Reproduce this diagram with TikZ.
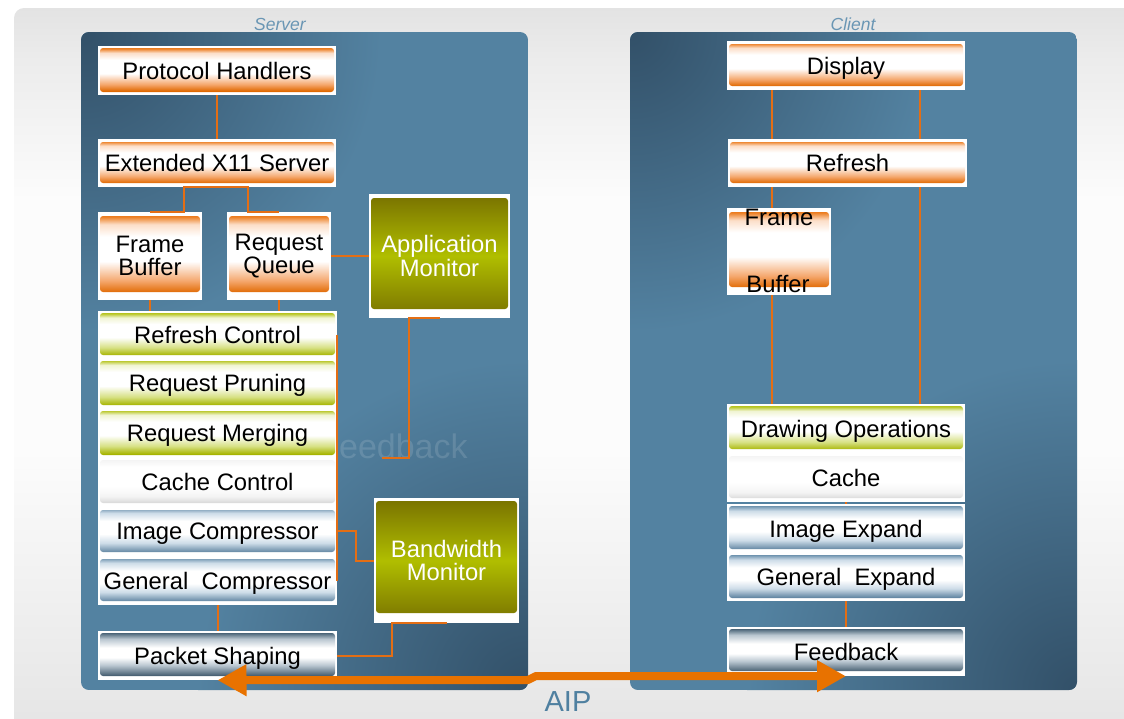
\documentclass[tikz,border=0pt]{standalone}
\usepackage{fontspec}
\setmainfont{Liberation Sans}
\usetikzlibrary{arrows.meta,calc}

\definecolor{bgG}{RGB}{227,227,227}
\definecolor{bgG2}{RGB}{236,236,236}
\definecolor{bgW}{RGB}{252,252,252}
\definecolor{bgB}{RGB}{230,230,230}
\definecolor{pD}{RGB}{50,80,104}
\definecolor{pL}{RGB}{83,130,161}
\definecolor{ttl}{RGB}{106,150,180}
\definecolor{aipT}{RGB}{79,128,160}
\definecolor{lnC}{RGB}{228,110,20}
\definecolor{aipC}{RGB}{232,114,0}
\definecolor{orD}{RGB}{224,104,0}
\definecolor{orM}{RGB}{236,124,30}
\definecolor{orS}{RGB}{245,168,110}
\definecolor{orL}{RGB}{252,222,200}
\definecolor{grD}{RGB}{166,180,0}
\definecolor{grM}{RGB}{182,196,30}
\definecolor{grS}{RGB}{214,224,130}
\definecolor{grL}{RGB}{240,244,210}
\definecolor{gyD}{RGB}{212,212,212}
\definecolor{gyM}{RGB}{228,228,228}
\definecolor{gyL}{RGB}{244,244,244}
\definecolor{blD}{RGB}{88,126,156}
\definecolor{blM}{RGB}{110,146,174}
\definecolor{blL}{RGB}{205,220,232}
\definecolor{dkD}{RGB}{52,78,98}
\definecolor{dkM}{RGB}{74,100,120}
\definecolor{dkL}{RGB}{185,198,208}
\definecolor{olD}{RGB}{122,116,0}
\definecolor{olM}{RGB}{176,190,0}

\pgfdeclareverticalshading{bgshade}{100bp}{color(0bp)=(bgB); color(26.5bp)=(bgB); color(44.8bp)=(bgW); color(61.9bp)=(bgW); color(71.4bp)=(bgG2); color(75bp)=(bgG); color(100bp)=(bgG)}
\pgfdeclareverticalshading{orangebox}{100bp}{color(0bp)=(orD); color(29bp)=(orD); color(36bp)=(orS); color(47bp)=(white); color(61bp)=(white); color(68bp)=(orL); color(72.5bp)=(orM); color(75bp)=(orM); color(100bp)=(orM)}
\pgfdeclareverticalshading{greenbox}{100bp}{color(0bp)=(grD); color(28bp)=(grD); color(36bp)=(grS); color(47bp)=(white); color(61bp)=(white); color(68bp)=(grL); color(72.5bp)=(grM); color(75bp)=(grM); color(100bp)=(grM)}
\pgfdeclareverticalshading{graybox}{100bp}{color(0bp)=(gyD); color(27bp)=(gyD); color(35bp)=(gyL); color(45bp)=(white); color(65bp)=(white); color(72bp)=(gyL); color(75bp)=(gyM); color(100bp)=(gyM)}
\pgfdeclareverticalshading{bluebox}{100bp}{color(0bp)=(blD); color(28bp)=(blD); color(38bp)=(blL); color(47bp)=(white); color(60bp)=(white); color(68bp)=(blL); color(73bp)=(blM); color(75bp)=(blM); color(100bp)=(blM)}
\pgfdeclareverticalshading{darkbox}{100bp}{color(0bp)=(dkD); color(28bp)=(dkD); color(40bp)=(dkL); color(48bp)=(white); color(58bp)=(white); color(67bp)=(dkL); color(73bp)=(dkM); color(75bp)=(dkM); color(100bp)=(dkM)}
\pgfdeclareverticalshading{olivebox}{100bp}{color(0bp)=(olD); color(26bp)=(olD); color(50bp)=(olM); color(74bp)=(olD); color(100bp)=(olD)}

\newcommand{\bfnt}{\fontsize{23.8}{23.5}\selectfont}

\tikzset{
  blk/.style={fill=white, inner sep=0pt, font=\bfnt, align=center, text=black},
  one/.style={text height=19pt, text depth=2pt},
  sh/.style n args={3}{path picture={\shade[shading=#1, rounded corners=3pt]
      ([xshift=2pt, yshift=#3]path picture bounding box.south west) rectangle
      ([xshift=-2pt, yshift=-#2]path picture bounding box.north east);}},
  mon/.style={blk, text=white},
  glow/.style={inner color=pD, outer color=pL},
  ln/.style={draw=lnC, line width=2pt},
  aip/.style={draw=aipC, line width=8pt, line join=round,
      arrows={Triangle[length=29pt,width=30pt]-Triangle[length=29pt,width=30pt]}},
  ttlf/.style={text=ttl, font=\fontsize{17.5}{18}\selectfont\itshape, inner sep=0pt}
}

\begin{document}
\begin{tikzpicture}[x=1pt, y=-1pt]
\useasboundingbox (0,0) rectangle (1124,718);
% background
\shade[shading=bgshade, rounded corners=10pt] (14,8) rectangle (1150,740);
% panels
\begin{scope}
  \clip[rounded corners=8pt] (81,32) rectangle (528,690);
  \fill[pL] (81,32) rectangle (528,690);
  \shade[glow] (81,32) circle[radius=300];
  \shade[glow] (528,690) circle[radius=330];
\end{scope}
\begin{scope}
  \clip[rounded corners=8pt] (630,32) rectangle (1077,690);
  \fill[pL] (630,32) rectangle (1077,690);
  \shade[glow] (630,32) circle[radius=300];
  \shade[glow] (1077,690) circle[radius=330];
\end{scope}
\node[ttlf] (tS) at (280,24) {Server};
\node[ttlf] (tC) at (853,24) {Client};
% watermark
\node[text=white, text opacity=0.13, font=\fontsize{34}{34}\selectfont, inner sep=0pt] (wm) at (393,446) {Feedback};

% server nodes
\node[blk, one, sh={orangebox}{2pt}{3pt}, minimum width=238pt, minimum height=49pt] (ph) at (217,70.5) {Protocol Handlers};
\node[blk, one, sh={orangebox}{3pt}{4pt}, minimum width=238pt, minimum height=48pt] (x11) at (217,163) {Extended X11 Server};
\node[blk, sh={orangebox}{4pt}{8pt}, minimum width=104pt, minimum height=88pt] (fb) at (150,256) {Frame\\Buffer};
\node[blk, sh={orangebox}{4pt}{8pt}, minimum width=104pt, minimum height=88pt] (rq) at (279,256) {Request\\Queue};
\node[mon, sh={olivebox}{4pt}{9pt}, minimum width=141pt, minimum height=124pt] (am) at (439.5,256) {Application\\Monitor};
\node[blk, one, sh={greenbox}{2pt}{3pt}, minimum width=239pt, minimum height=47pt] (rc) at (217.5,334.5) {Refresh Control};
\node[blk, one, sh={greenbox}{3pt}{3pt}, minimum width=239pt, minimum height=50pt] (rp) at (217.5,383) {Request Pruning};
\node[blk, one, sh={greenbox}{3pt}{2pt}, minimum width=239pt, minimum height=49pt] (rm) at (217.5,432.5) {Request Merging};
\node[blk, one, sh={graybox}{3pt}{3pt}, minimum width=239pt, minimum height=49pt] (cc) at (217.5,481.5) {Cache Control};
\node[blk, one, sh={bluebox}{4pt}{4pt}, minimum width=239pt, minimum height=50pt] (ic) at (217.5,531) {Image Compressor};
\node[blk, one, sh={bluebox}{3pt}{4pt}, minimum width=239pt, minimum height=49pt] (gc) at (217.5,580.5) {General\ \ Compressor};
\node[mon, sh={olivebox}{3pt}{10pt}, minimum width=145pt, minimum height=125pt] (bm) at (446.5,560.5) {Bandwidth\\Monitor};
\node[blk, one, sh={darkbox}{2pt}{4pt}, minimum width=239pt, minimum height=49pt] (ps) at (217.5,655.5) {Packet Shaping};

% client nodes
\node[blk, one, sh={orangebox}{3pt}{4pt}, minimum width=238pt, minimum height=49pt] (disp) at (846,65.5) {Display};
\node[blk, one, sh={orangebox}{3pt}{4pt}, minimum width=239pt, minimum height=48pt] (ref) at (847.5,163) {Refresh};
\node[blk, sh={orangebox}{4pt}{8pt}, minimum width=104pt, minimum height=87pt] (fbc) at (779,251.5) {};
\node[font=\bfnt, anchor=base, inner sep=0pt] (fbcT) at (779,225) {Frame};
\node[font=\bfnt, anchor=base, inner sep=0pt] (fbcB) at (778,292) {Buffer};
\node[blk, one, sh={greenbox}{2pt}{4pt}, minimum width=238pt, minimum height=49pt] (dop) at (846,428.5) {Drawing Operations};
\node[blk, one, sh={graybox}{3pt}{4pt}, minimum width=238pt, minimum height=49pt] (cache) at (846,477.5) {Cache};
\node[blk, one, sh={bluebox}{2pt}{4pt}, minimum width=238pt, minimum height=49pt] (ie) at (846,528.5) {Image Expand};
\node[blk, one, sh={bluebox}{2pt}{3pt}, minimum width=238pt, minimum height=48pt] (ge) at (846,577) {General\ \ Expand};
\node[blk, one, sh={darkbox}{2pt}{5pt}, minimum width=238pt, minimum height=49pt] (fbk) at (846,651.5) {Feedback};

% server connectors
\draw[ln] (ph.south) -- (x11.north);
\draw[ln] (fb.north) -- ++(34,0) |- ([xshift=31pt]x11.south) |- (rq.north);
\draw[ln] (fb.south) -- (fb.south |- rc.north);
\draw[ln] (rq.south) -- (rq.south |- rc.north);
\draw[ln] (rq.east) -- (am.west);
\draw[ln] (am.south) -- ++(-31,0) -- ++(0,140) -- ++(-27,0) coordinate (amEnd);
\draw[ln] (rc.east) -- (gc.east);
\draw[ln] (ic.east) -- ++(19,0) |- (bm.west);
\draw[ln] (gc.south) -- (ps.north);
\draw[ln] (ps.east) -- ++(55,0) |- (bm.south);

% client connectors
\coordinate (cL) at (772,0);
\coordinate (cR) at (920,0);
\draw[ln] (disp.south -| cL) -- (ref.north -| cL);
\draw[ln] (ref.south -| cL) -- (fbc.north -| cL);
\draw[ln] (fbc.south -| cL) -- (dop.north -| cL);
\draw[ln] (disp.south -| cR) -- (ref.north -| cR);
\draw[ln] (ref.south -| cR) -- (dop.north -| cR);
\draw[ln] (cache.south) -- (ie.north);
\draw[ln] (ge.south) -- (fbk.north);

% AIP link
\draw[aip] (ps.south) -- (528,680) -- (536,676) -- (fbk.south);
\node[text=aipT, font=\fontsize{29}{29}\selectfont, inner sep=0pt] (aipL) at (568,702) {AIP};
\end{tikzpicture}
\end{document}
